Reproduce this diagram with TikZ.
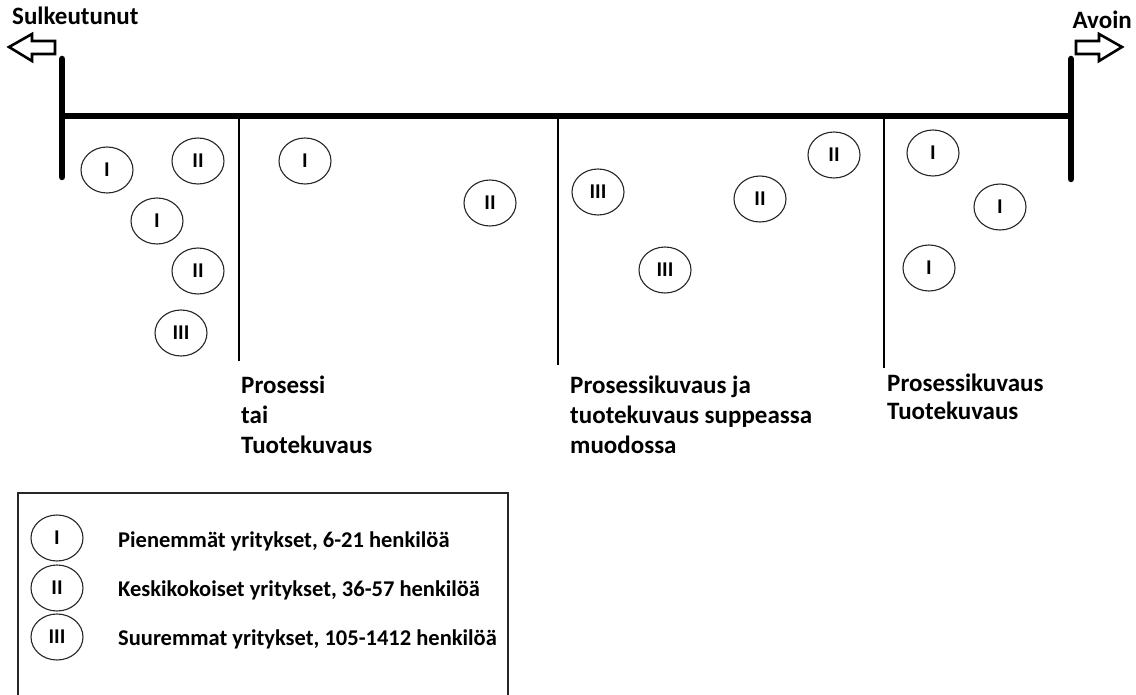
\documentclass[tikz,border=0pt]{standalone}
\usepackage{fontspec}
\setmainfont{Carlito}
\usetikzlibrary{shapes.geometric}
\begin{document}
\begin{tikzpicture}[x=1pt,y=-1pt,
  thick line/.style={line width=6.5pt,line cap=round},
  divider/.style={line width=2.6pt},
  company/.style={draw=black!85,line width=1.1pt,ellipse,minimum width=52pt,minimum height=46pt,inner sep=0pt,text height=13.5pt,text depth=0pt,font=\bfseries\fontsize{21}{21}\selectfont},
  label/.style={anchor=base west,inner sep=0pt,font=\bfseries\fontsize{25}{25}\selectfont},
  legendtext/.style={anchor=base west,inner sep=0pt,font=\bfseries\fontsize{22.5}{22.5}\selectfont},
  blockarrow/.style={draw=black,line width=2.6pt,line join=miter,fill=white}]
\useasboundingbox (0,0) rectangle (1136,695);
% titles
\node[label,anchor=base west] (closed) at (12,25) {Sulkeutunut};
\node[label,anchor=base east] (open) at (1132,29) {Avoin};
% arrows
\draw[blockarrow] (9,47) -- (32,34) -- (32,41) -- (55,41) -- (55,54) -- (32,54) -- (32,61) -- cycle;
\draw[blockarrow] (1122,47) -- (1099,34) -- (1099,41) -- (1076,41) -- (1076,54) -- (1099,54) -- (1099,61) -- cycle;
% axis
\coordinate (lt) at (62,59);
\coordinate (lb) at (62,177);
\coordinate (lm) at (62,116);
\coordinate (rt) at (1071,59);
\coordinate (rb) at (1071,179);
\coordinate (rm) at (1071,116);
\draw[thick line] (lt) -- (lb);
\draw[thick line] (rt) -- (rb);
\draw[line width=6.5pt] (lm) -- (rm);
% dividers
\coordinate (d1t) at (239,116); \coordinate (d1b) at (239,361);
\coordinate (d2t) at (558,116); \coordinate (d2b) at (558,365);
\coordinate (d3t) at (884,116); \coordinate (d3b) at (884,368);
\draw[divider] (d1t) -- (d1b);
\draw[divider] (d2t) -- (d2b);
\draw[divider] (d3t) -- (d3b);
% companies
\node[company] (c1) at (107,170) {I};
\node[company] (c2) at (198,161) {II};
\node[company] (c3) at (157,221) {I};
\node[company] (c4) at (198,271) {II};
\node[company] (c5) at (181,333) {III};
\node[company] (c6) at (305,161) {I};
\node[company] (c7) at (490,203) {II};
\node[company] (c8) at (598,192) {III};
\node[company] (c9) at (665,270) {III};
\node[company] (c10) at (760,199) {II};
\node[company] (c11) at (834,155) {II};
\node[company] (c12) at (933,153) {I};
\node[company] (c13) at (1000,207) {I};
\node[company] (c14) at (929,268) {I};
% section labels
\node[label] (l1a) at (241,393) {Prosessi};
\node[label] (l1b) at (241,423) {tai};
\node[label] (l1c) at (241,453) {Tuotekuvaus};
\node[label] (l2a) at (570,393) {Prosessikuvaus ja};
\node[label] (l2b) at (570,423) {tuotekuvaus suppeassa};
\node[label] (l2c) at (570,453) {muodossa};
\node[label] (l3a) at (887,391) {Prosessikuvaus};
\node[label] (l3b) at (887,419) {Tuotekuvaus};
% legend
\draw[line width=1.6pt,draw=black!85] (18,700) -- (18,493) -- (508,493) -- (508,700);
\node[company] (k1) at (57,538) {I};
\node[company] (k2) at (57,588) {II};
\node[company] (k3) at (57,637) {III};
\node[legendtext] (t1) at (118,547) {Pienemmät yritykset, 6-21 henkilöä};
\node[legendtext] (t2) at (118,596) {Keskikokoiset yritykset, 36-57 henkilöä};
\node[legendtext] (t3) at (118,645) {Suuremmat yritykset, 105-1412 henkilöä};
\end{tikzpicture}
\end{document}
